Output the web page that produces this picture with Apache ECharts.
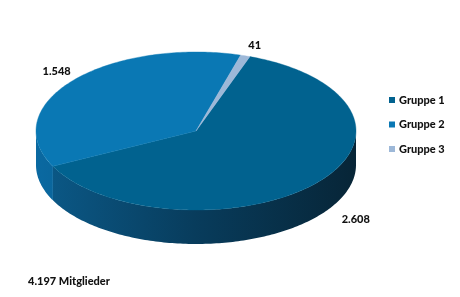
<!DOCTYPE html>
<html><head><meta charset="utf-8">
<script src="https://cdn.jsdelivr.net/npm/echarts@6/dist/echarts.min.js"></script>
<style>html,body{margin:0;padding:0;background:#fff}#c{width:460px;height:297px}</style>
</head><body><div id="c"></div>
<script>
// ---- data ----
const categories = ['Gruppe 1', 'Gruppe 2', 'Gruppe 3'];
const values = [2608, 1548, 41];
const totalSuffix = 'Mitglieder';

// ---- styles / layout ----
const topColors = ['#01628f', '#0a78b4', '#9db8d8'];
const sideStops = [
  [['#0b5a89', 0], ['#083c5c', 0.5], ['#072537', 1]],
  [['#0a69a1', 0], ['#09507c', 0.5], ['#083350', 1]],
  [['#8aa6c6', 0], ['#6a86a6', 0.5], ['#4a6686', 1]]
];
const CX = 196, CY = 131, RX = 160, RY = 79, DEPTH = 34, START = 19.7;
const LABEL_K = 1.15;
const labelNudge = [[22, -6], [2, -1], [2, 1]];
const FONT = '900 11px Lato';

function fmt(n) { return String(n).replace(/\B(?=(\d{3})+(?!\d))/g, '.'); }
const total = values.reduce((a, b) => a + b, 0);

function pt(deg, dy) {
  const r = deg * Math.PI / 180;
  return [CX + RX * Math.sin(r), CY - RY * Math.cos(r) + (dy || 0)];
}
function arc(s, e, dy) {
  const n = Math.max(2, Math.ceil(Math.abs(e - s)));
  const out = [];
  for (let k = 0; k <= n; k++) out.push(pt(s + (e - s) * k / n, dy));
  return out;
}

function renderSlice(params, api) {
  const i = params.seriesIndex;
  let before = 0;
  for (let j = 0; j < i; j++) before += values[j];
  const a0 = START + before / total * 360;
  const a1 = a0 + api.value(0) / total * 360;
  const children = [];
  for (let m = -1; m <= 2; m++) {
    const lo = Math.max(a0, 90 + 360 * m), hi = Math.min(a1, 270 + 360 * m);
    if (hi > lo) {
      const pts = arc(lo, hi, 0).concat(arc(lo, hi, DEPTH).reverse());
      const grad = new echarts.graphic.LinearGradient(CX - RX, 0, CX + RX, 0,
        sideStops[i].map(s => ({ offset: s[1], color: s[0] })), true);
      children.push({ type: 'polygon', shape: { points: pts }, style: { fill: grad, stroke: null }, z2: 1 });
    }
  }
  const topPts = [[CX, CY]].concat(arc(a0, a1, 0));
  children.push({ type: 'polygon', shape: { points: topPts },
    style: { fill: topColors[i], stroke: topColors[i], lineWidth: 0.4 }, z2: 2 });
  // label
  const mid = (a0 + a1) / 2, r = mid * Math.PI / 180;
  const front = Math.cos(r) < 0;
  const lx = CX + RX * LABEL_K * Math.sin(r) + labelNudge[i][0];
  const ly = CY - RY * LABEL_K * Math.cos(r) + (front ? DEPTH : 0) + labelNudge[i][1];
  children.push({ type: 'text', x: lx, y: ly, z2: 5,
    style: { text: fmt(api.value(0)), font: FONT, fill: '#111', align: 'center', verticalAlign: 'middle' } });
  return { type: 'group', children };
}

const chart = echarts.init(document.getElementById('c'), null, { renderer: 'canvas' });
chart.setOption({
  animation: false,
  backgroundColor: '#fff',
  legend: {
    orient: 'vertical', left: 389, top: 94.5, padding: 0,
    itemWidth: 6, itemHeight: 6, itemGap: 13.5, icon: 'rect',
    data: categories,
    textStyle: { fontFamily: 'Lato', fontWeight: 900, fontSize: 11, color: '#111', padding: [0, 0, 0, -1] }
  },
  graphic: [{
    type: 'text', left: 28, top: 276,
    style: { text: fmt(total) + ' ' + totalSuffix, font: FONT, fill: '#111' }
  }],
  series: categories.map((name, i) => ({
    type: 'custom', name, coordinateSystem: 'none',
    itemStyle: { color: topColors[i] },
    data: [values[i]],
    renderItem: renderSlice
  }))
});
</script></body></html>
